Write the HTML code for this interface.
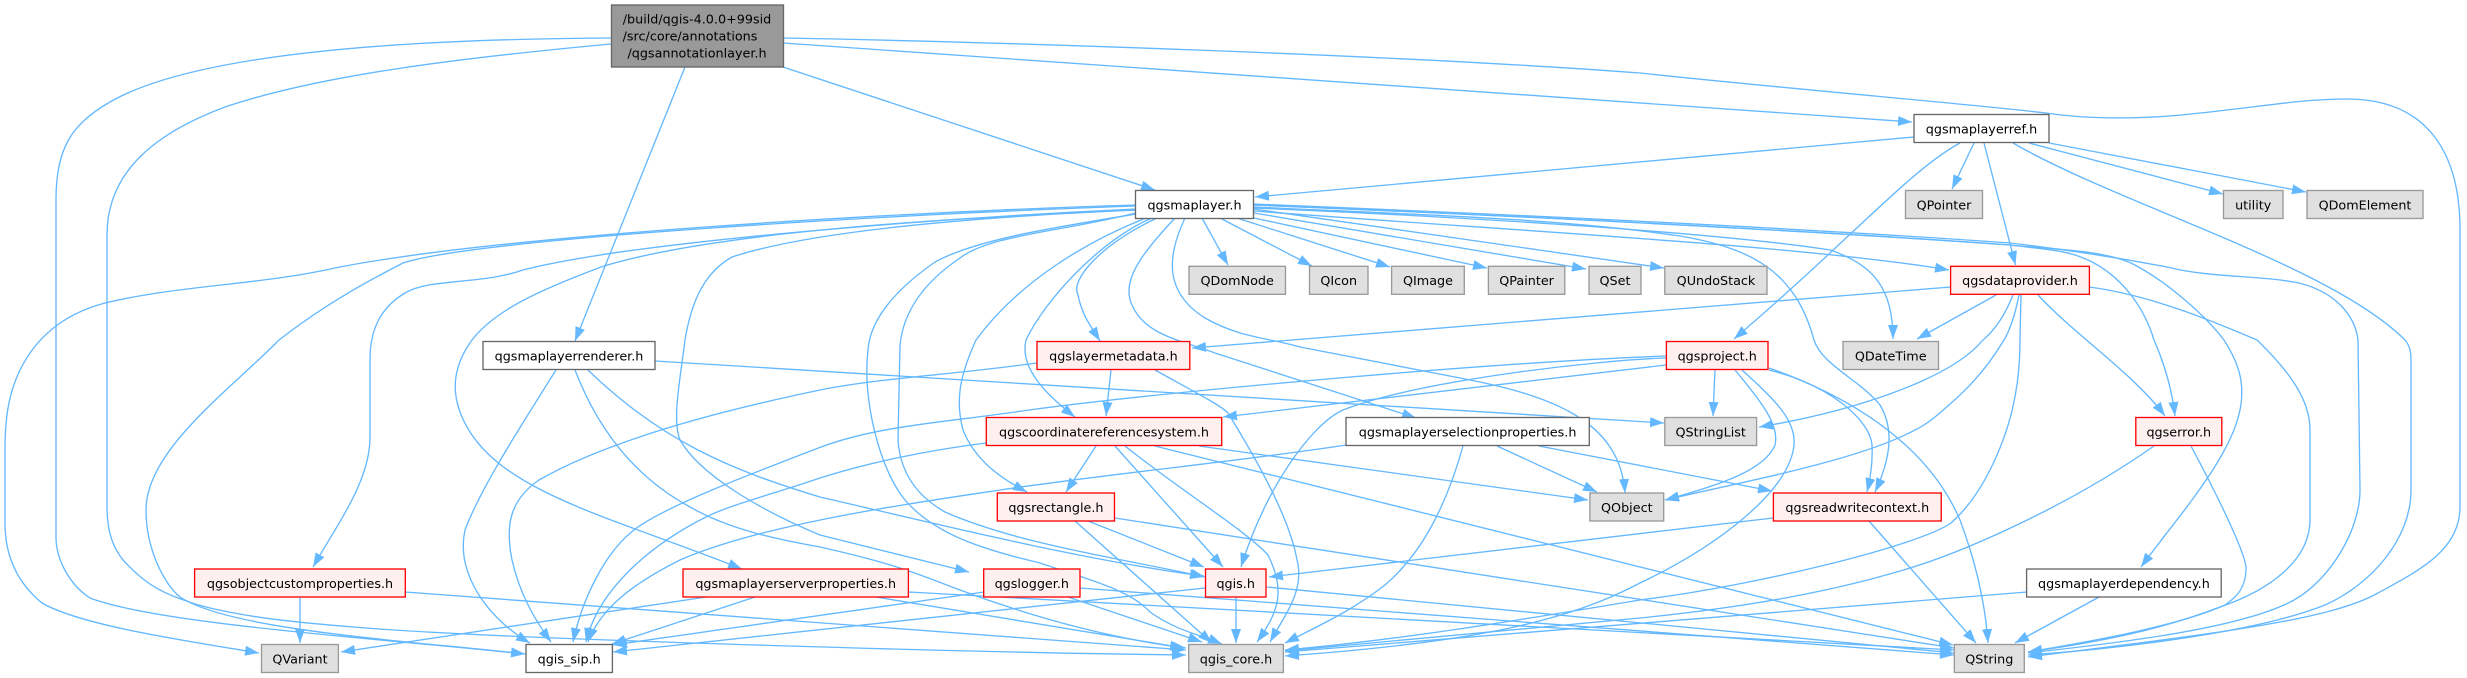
<!DOCTYPE html>
<html><head><meta charset="utf-8"><style>
html,body{margin:0;padding:0;background:#fff}
svg{display:block}
.e path{fill:none;stroke:#63b8ff;stroke-width:1.33;marker-end:url(#a)}
rect{stroke-width:1.33}
.w{fill:#fff;stroke:#666}
.g{fill:#e0e0e0;stroke:#999}
.r{fill:#fff0f0;stroke:#f00}
text{font-family:"DejaVu Sans",sans-serif;font-size:12.75px;text-anchor:middle;fill:#000}
</style></head><body>
<svg width="2467" height="678" viewBox="0 0 2467 678" xmlns="http://www.w3.org/2000/svg">
<defs><marker id="a" viewBox="0 0 14 10" markerWidth="14" markerHeight="10" refX="14" refY="5" orient="auto" markerUnits="userSpaceOnUse"><path d="M0,0L14,5L0,10z" fill="#63b8ff"/></marker></defs>
<g class="e">
<path d="M611,38C430,39 200,50 110,102C70,125 56,150 56,200L56,537C56,560 70,585 90,598C160,625 400,640 525,654"/>
<path d="M611,44C460,58 320,75 225,107C150,135 107,175 107,235L107,507C107,535 115,550 123,560C150,590 170,595 195,604C250,620 330,625 366,628C520,640 1000,653 1186,655"/>
<path d="M685,67L575,341"/>
<path d="M783,67L1155,190"/>
<path d="M783,38C1000,42 1400,55 1640,73C1800,90 1980,105 2046,113C2100,121 2160,118 2200,113C2260,107 2300,99 2347,99C2425,99 2460,150 2460,230L2460,507C2460,550 2420,570 2378,593C2330,620 2220,633 2028,657"/>
<path d="M783,43L1912,122"/>
<path d="M1914,137L1255,197"/>
<path d="M1960,143C1910,170 1850,240 1734,339"/>
<path d="M1974,143L1952,189"/>
<path d="M1984,143L2015.5,265"/>
<path d="M2029,143L2223,194"/>
<path d="M2049,143L2306,192"/>
<path d="M2013,143C2120,205 2330,265 2405,340C2409,345 2411,350 2411,360L2411,490C2411,540 2370,585 2325,605C2250,635 2100,650 2028,655"/>
<path d="M1202,218L1228,265"/>
<path d="M1220,218L1312,266"/>
<path d="M1237,218L1390,267"/>
<path d="M1254,218L1487,268"/>
<path d="M1254,213L1586,269"/>
<path d="M1254,209L1664,268"/>
<path d="M1254,211C1500,230 1800,245 1949,270"/>
<path d="M1254,208C1420,215 1700,230 1830,250C1875,265 1893,290 1893,339"/>
<path d="M1254,207C1400,214 1560,218 1680,236C1750,248 1795,270 1814,340C1822,365 1860,380 1880,405C1895,430 1890,460 1875,492"/>
<path d="M1254,205C1500,215 1800,230 2010,245C2060,250 2100,250 2131,263C2165,280 2205,315 2224,340C2240,365 2245,385 2240,410C2230,460 2175,520 2141,567"/>
<path d="M1254,205C1500,215 1800,230 2010,245C2050,250 2070,250 2094,263C2125,280 2145,310 2154,340C2165,365 2172,390 2175,416"/>
<path d="M1254,204C1500,214 1800,228 2010,243C2070,250 2120,258 2167,267C2210,278 2260,275 2299,283C2335,292 2355,315 2358,340L2360,490C2360,530 2330,580 2294,600C2240,630 2100,645 2028,653"/>
<path d="M1136,206C900,214 480,238 403,263C380,275 330,300 279,340C230,390 146,450 146,510C146,550 165,585 180,597C230,630 400,640 525,654"/>
<path d="M1136,205C900,212 500,235 335,268C260,285 180,285 105,303C60,315 35,340 20,370C8,395 5,420 5,450L5,523C5,560 20,585 42,603C80,625 180,640 259,653"/>
<path d="M1136,209C960,217 640,240 523,270C480,285 430,278 405,293C380,308 370,330 370,360L370,437C370,480 340,520 313,567"/>
<path d="M1136,210C960,218 720,230 601,267C540,290 495,310 472,340C450,370 450,400 470,432C510,495 620,520 742,569"/>
<path d="M1136,210C1000,216 820,228 732,257C700,275 690,310 685,340C680,380 672,420 680,440C700,475 760,510 820,535L969,572"/>
<path d="M1136,214C1050,228 975,240 935,262C895,290 870,320 868,350C862,400 880,470 905,500C935,535 985,550 1040,563C1090,580 1130,590 1150,612C1175,630 1200,635 1222,644"/>
<path d="M1136,213C1060,232 990,235 960,258C920,285 903,315 900,345L898,440C900,470 915,495 945,512C1020,545 1130,560 1205,577"/>
<path d="M1146,218C1090,240 1020,280 976,340C960,375 955,400 963,430C975,460 1000,478 1027,492"/>
<path d="M1152,218C1100,240 1045,300 1026,340C1020,365 1040,390 1075,417"/>
<path d="M1157,218C1100,245 1070,280 1078,295C1082,315 1090,325 1100,341"/>
<path d="M1175,218C1145,250 1120,280 1132,305C1145,335 1180,340 1215,353L1416,418"/>
<path d="M1185,218C1170,250 1160,290 1205,318C1240,338 1270,338 1300,347L1460,378C1550,395 1620,420 1625,493"/>
<path d="M1951,287L1192,348"/>
<path d="M1996,295L1917,339"/>
<path d="M2013,295C2005,315 1995,330 1983,340C1950,380 1850,412 1759,427"/>
<path d="M2019,295C2015,315 2010,330 2004,340C1980,380 1955,400 1935,417C1890,455 1750,480 1665,500"/>
<path d="M2021,295L2020,340C2020,390 2010,430 1990,470C1975,500 1960,515 1951,523C1920,545 1760,585 1640,600C1520,620 1400,640 1285,650"/>
<path d="M2038,295C2075,335 2135,375 2165,416"/>
<path d="M2089,287C2150,295 2210,320 2257,340C2290,372 2310,400 2310,430L2310,520C2310,560 2270,590 2220,607C2160,630 2100,642 2028,652"/>
<path d="M2191,446C2225,510 2248,560 2246,570C2245,590 2235,598 2225,605C2180,625 2100,640 2028,652"/>
<path d="M2154,446C2070,505 1960,555 1893,573C1800,600 1700,612 1640,618L1285,651"/>
<path d="M2099,597L2015,643"/>
<path d="M2027,592L1285,652"/>
<path d="M1869,521L1976,643"/>
<path d="M1773,518L1269,577"/>
<path d="M1715,370L1713,416"/>
<path d="M1735,370C1760,400 1780,425 1775,445C1765,470 1720,485 1665,500"/>
<path d="M1769,370C1830,385 1870,420 1872,445C1873,465 1870,480 1867,492"/>
<path d="M1769,368C1860,400 1930,450 1960,520C1975,560 1985,600 1988,643"/>
<path d="M1742,370C1775,400 1796,420 1794,445C1790,490 1720,545 1640,583C1570,620 1480,642 1285,656"/>
<path d="M1666,365L1223,417"/>
<path d="M1666,358C1600,360 1420,380 1343,410C1310,425 1265,490 1241,567"/>
<path d="M1666,356C1500,362 1180,390 1029,410C950,422 880,425 821,447C740,478 670,505 638,527C605,550 582,600 573,642"/>
<path d="M1037,363C950,375 880,378 820,390C700,415 600,445 539,480C510,500 505,525 512,560C520,595 535,620 551,642"/>
<path d="M1111,370L1106,416"/>
<path d="M1155,370C1200,395 1220,405 1228,413C1260,465 1290,520 1297,560C1305,590 1285,615 1270,642"/>
<path d="M986,443C930,450 870,462 820,478C770,495 730,505 706,517C650,545 598,590 586,642"/>
<path d="M1096,446L1066,492"/>
<path d="M1115,446L1223,567"/>
<path d="M1125,446C1180,490 1245,530 1268,555C1285,590 1280,610 1257,642"/>
<path d="M1199,446L1588,500"/>
<path d="M1155,446L1953,645"/>
<path d="M1115,518L1954,648"/>
<path d="M1088,521L1204,567"/>
<path d="M1075,521L1212,643"/>
<path d="M1539,446L1772,491"/>
<path d="M1497,446L1597,492"/>
<path d="M1463,446C1445,510 1420,555 1385,585C1350,612 1320,625 1285,643"/>
<path d="M1346,445C1250,460 1100,475 1000,490C900,505 760,525 680,560C630,585 600,610 588,642"/>
<path d="M1236,597L1236,643"/>
<path d="M1205,588L613,652"/>
<path d="M1267,587L1954,653"/>
<path d="M1080,588L1954,655"/>
<path d="M1068,597L1202,642"/>
<path d="M984,592L613,645"/>
<path d="M556,370C515,435 480,490 465,530C455,575 490,620 530,643"/>
<path d="M655,361L1664,423"/>
<path d="M588,370C660,440 730,470 820,497C920,520 1080,560 1204,576"/>
<path d="M575,370C600,435 640,480 690,507C730,530 780,540 820,547C900,565 920,575 960,590C1040,620 1120,640 1186,648"/>
<path d="M300,597L300,643"/>
<path d="M405,592L1186,650"/>
<path d="M706,597L341,652"/>
<path d="M755,597L612,644"/>
<path d="M876,597L1184,648"/>
<path d="M909,592L1954,650"/>
</g>
<rect x="611.5" y="5" width="172" height="62" fill="#999" stroke="#666"/>
<text x="697" y="23.5">/build/qgis-4.0.0+99sid</text>
<text x="690" y="40.5">/src/core/annotations</text>
<text x="697" y="57.5">/qgsannotationlayer.h</text>
<rect class="w" x="1914" y="114.5" width="135" height="28"/><text x="1981.5" y="133.3">qgsmaplayerref.h</text>
<rect class="w" x="1135.5" y="190.5" width="118" height="28"/><text x="1194.5" y="209.3">qgsmaplayer.h</text>
<rect class="g" x="1905.5" y="190.5" width="77" height="28"/><text x="1944" y="209.3">QPointer</text>
<rect class="g" x="2223.5" y="190.5" width="59.5" height="28"/><text x="2253.2" y="209.3">utility</text>
<rect class="g" x="2307" y="190.5" width="116" height="28"/><text x="2365" y="209.3">QDomElement</text>
<rect class="g" x="1189" y="266.3" width="96.5" height="28"/><text x="1237.2" y="285.1">QDomNode</text>
<rect class="g" x="1309.5" y="266.3" width="58.5" height="28"/><text x="1338.7" y="285.1">QIcon</text>
<rect class="g" x="1391.6" y="266.3" width="72.7" height="28"/><text x="1428" y="285.1">QImage</text>
<rect class="g" x="1488.4" y="266.3" width="76.4" height="28"/><text x="1526.6" y="285.1">QPainter</text>
<rect class="g" x="1589" y="266.3" width="52" height="28"/><text x="1615" y="285.1">QSet</text>
<rect class="g" x="1664.8" y="266.3" width="102.2" height="28"/><text x="1716" y="285.1">QUndoStack</text>
<rect class="r" x="1950.6" y="266.3" width="138.8" height="28"/><text x="2020" y="285.1">qgsdataprovider.h</text>
<rect class="w" x="483" y="341.5" width="172" height="28"/><text x="569" y="360.3">qgsmaplayerrenderer.h</text>
<rect class="r" x="1037" y="341.5" width="152.8" height="28"/><text x="1113.4" y="360.3">qgslayermetadata.h</text>
<rect class="r" x="1666.4" y="341.5" width="101.6" height="28"/><text x="1717.2" y="360.3">qgsproject.h</text>
<rect class="g" x="1843" y="341.5" width="95.5" height="28"/><text x="1890.7" y="360.3">QDateTime</text>
<rect class="r" x="986.3" y="417.5" width="235.4" height="28"/><text x="1104" y="436.3">qgscoordinatereferencesystem.h</text>
<rect class="w" x="1346" y="417.5" width="243.3" height="28"/><text x="1467.6" y="436.3">qgsmaplayerselectionproperties.h</text>
<rect class="g" x="1664.8" y="417.5" width="91.8" height="28"/><text x="1710.7" y="436.3">QStringList</text>
<rect class="r" x="2135.8" y="417.5" width="86" height="28"/><text x="2178.8" y="436.3">qgserror.h</text>
<rect class="r" x="997.3" y="493" width="117.2" height="28"/><text x="1055.9" y="511.8">qgsrectangle.h</text>
<rect class="g" x="1589.9" y="493" width="73.8" height="28"/><text x="1626.8" y="511.8">QObject</text>
<rect class="r" x="1773.4" y="493" width="167.8" height="28"/><text x="1857.3" y="511.8">qgsreadwritecontext.h</text>
<rect class="r" x="194.6" y="569" width="210.7" height="28"/><text x="300" y="587.8">qgsobjectcustomproperties.h</text>
<rect class="r" x="683" y="569" width="225.4" height="28"/><text x="795.7" y="587.8">qgsmaplayerserverproperties.h</text>
<rect class="r" x="983.7" y="569" width="96.3" height="28"/><text x="1031.8" y="587.8">qgslogger.h</text>
<rect class="r" x="1205.5" y="569" width="60.5" height="28"/><text x="1235.7" y="587.8">qgis.h</text>
<rect class="w" x="2026.6" y="569" width="194.6" height="28"/><text x="2123.9" y="587.8">qgsmaplayerdependency.h</text>
<rect class="g" x="261.5" y="644.5" width="76.9" height="28"/><text x="300" y="663.3">QVariant</text>
<rect class="w" x="526" y="644.5" width="86.4" height="28"/><text x="569.2" y="663.3">qgis_sip.h</text>
<rect class="g" x="1188.7" y="644.5" width="94.7" height="28"/><text x="1236" y="663.3">qgis_core.h</text>
<rect class="g" x="1954.3" y="644.5" width="70" height="28"/><text x="1989.3" y="663.3">QString</text>
</svg>
</body></html>
